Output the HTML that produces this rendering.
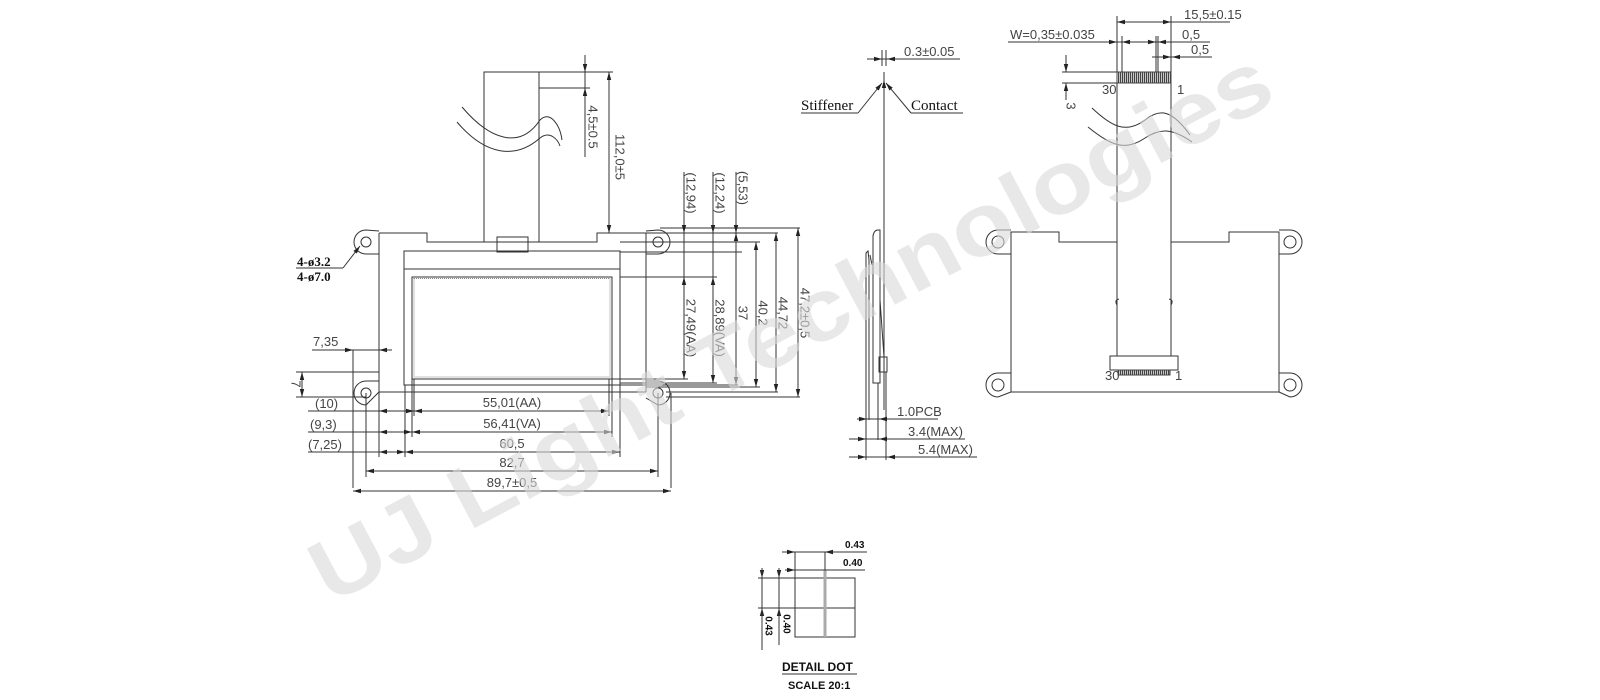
<!DOCTYPE html>
<html><head><meta charset="utf-8"><style>
html,body{margin:0;padding:0;background:#fff;}
svg{display:block;}
.d{font-family:"Liberation Sans",sans-serif;font-size:13px;fill:#444;}
.b{font-family:"Liberation Serif",serif;font-size:13px;font-weight:bold;fill:#111;}
.s{font-family:"Liberation Serif",serif;font-size:15px;fill:#111;}
.a{font-family:"Liberation Sans",sans-serif;font-size:10px;font-weight:bold;fill:#111;}
</style></head><body>
<svg width="1600" height="700" viewBox="0 0 1600 700" xmlns="http://www.w3.org/2000/svg">
<defs>
<marker id="ar" markerWidth="8" markerHeight="6" refX="8" refY="3" orient="auto-start-reverse" markerUnits="userSpaceOnUse"><path d="M0,0.8 L8,3 L0,5.2z" fill="#222"/></marker>
<pattern id="st" width="2" height="10" patternUnits="userSpaceOnUse"><rect width="1.3" height="10" fill="#444"/></pattern>
</defs>
<g stroke="#333" stroke-width="1" fill="none">
<!-- ===== FRONT VIEW ===== -->
<rect x="484" y="72" width="55" height="170"/>
<line x1="539" y1="72" x2="613" y2="72"/>
<line x1="539" y1="88" x2="590" y2="88"/>
<path d="M462,107 C490,140 520,150 540,120 C550,110 560,125 562,140" />
<path d="M457,122 C485,155 515,160 540,138 C550,130 558,140 560,146" />
<line x1="585" y1="55" x2="585" y2="157"/>
<line x1="585" y1="55" x2="585" y2="72" marker-end="url(#ar)"/>
<line x1="585" y1="100" x2="585" y2="88" marker-end="url(#ar)"/>
<line x1="609" y1="72" x2="609" y2="233" marker-start="url(#ar)" marker-end="url(#ar)"/>
<path d="M379,233 L427,233 L427,242 L597,242 L597,233 L646,233"/>
<line x1="379" y1="233" x2="379" y2="392"/>
<line x1="646" y1="233" x2="646" y2="392"/>
<line x1="379" y1="392" x2="646" y2="392"/>
<rect x="497" y="237" width="31" height="15"/>
<path d="M379,231 L366,230 A12,12 0 1 0 366,254 L379,254"/>
<circle cx="366" cy="242" r="5"/>
<path d="M379,381 L366,381 A12,12 0 1 0 366,405 L379,392"/>
<circle cx="366" cy="393" r="5"/>
<path d="M646,231 L658,230 A12,12 0 1 1 658,254 L646,254"/>
<circle cx="658" cy="242" r="5"/>
<path d="M646,381 L658,381 A12,12 0 1 1 658,405 L646,398"/>
<circle cx="658" cy="393" r="5"/>
<rect x="404" y="251" width="216" height="134"/>
<line x1="404" y1="269" x2="620" y2="269"/>
<rect x="412" y="277" width="200" height="102"/>
<rect x="414" y="278.5" width="196" height="98.5" stroke="#888" stroke-dasharray="1,1"/>
<line x1="360" y1="246" x2="343" y2="268" marker-start="url(#ar)"/>
<line x1="296" y1="268" x2="343" y2="268"/>
<line x1="312" y1="350" x2="379" y2="350"/>
<line x1="353" y1="350" x2="353" y2="488"/>
<line x1="340" y1="350" x2="353" y2="350" marker-end="url(#ar)"/>
<line x1="392" y1="350" x2="379" y2="350" marker-end="url(#ar)"/>
<line x1="296" y1="372" x2="379" y2="372"/>
<line x1="296" y1="397" x2="366" y2="397"/>
<line x1="302" y1="372" x2="302" y2="397" marker-start="url(#ar)" marker-end="url(#ar)"/>
<line x1="366" y1="393" x2="366" y2="477"/>
<line x1="379" y1="392" x2="379" y2="457"/>
<line x1="405" y1="385" x2="405" y2="457"/>
<line x1="412" y1="379" x2="412" y2="437"/>
<line x1="414" y1="379" x2="414" y2="416"/>
<line x1="609" y1="379" x2="609" y2="416"/>
<line x1="612" y1="379" x2="612" y2="437"/>
<line x1="620" y1="385" x2="620" y2="457"/>
<line x1="658" y1="393" x2="658" y2="477"/>
<line x1="671" y1="393" x2="671" y2="488"/>
<line x1="308" y1="411" x2="379" y2="411"/>
<line x1="379" y1="411" x2="414" y2="411" marker-start="url(#ar)" marker-end="url(#ar)"/>
<line x1="414" y1="411" x2="609" y2="411" marker-start="url(#ar)" marker-end="url(#ar)"/>
<line x1="308" y1="432" x2="379" y2="432"/>
<line x1="379" y1="432" x2="412" y2="432" marker-start="url(#ar)" marker-end="url(#ar)"/>
<line x1="412" y1="432" x2="612" y2="432" marker-start="url(#ar)" marker-end="url(#ar)"/>
<line x1="308" y1="452" x2="379" y2="452"/>
<line x1="379" y1="452" x2="405" y2="452" marker-start="url(#ar)" marker-end="url(#ar)"/>
<line x1="405" y1="452" x2="620" y2="452" marker-start="url(#ar)" marker-end="url(#ar)"/>
<line x1="366" y1="471" x2="658" y2="471" marker-start="url(#ar)" marker-end="url(#ar)"/>
<line x1="353" y1="491" x2="671" y2="491" marker-start="url(#ar)" marker-end="url(#ar)"/>
<line x1="660" y1="228" x2="800" y2="228"/>
<line x1="646" y1="233" x2="778" y2="233"/>
<line x1="620" y1="242" x2="760" y2="242"/>
<line x1="620" y1="252" x2="742" y2="252"/>
<line x1="620" y1="277" x2="717" y2="277"/>
<line x1="612" y1="379" x2="688" y2="379"/>
<line x1="620" y1="383" x2="717" y2="383"/>
<line x1="620" y1="385" x2="738" y2="385"/>
<line x1="646" y1="387" x2="760" y2="387"/>
<line x1="666" y1="392" x2="778" y2="392"/>
<line x1="666" y1="397" x2="800" y2="397"/>
<line x1="684" y1="172" x2="684" y2="233" marker-end="url(#ar)"/>
<line x1="684" y1="277" x2="684" y2="379" marker-start="url(#ar)" marker-end="url(#ar)"/>
<line x1="684" y1="233" x2="684" y2="277"/>
<line x1="713" y1="172" x2="713" y2="233" marker-end="url(#ar)"/>
<line x1="713" y1="233" x2="713" y2="277"/>
<line x1="713" y1="277" x2="713" y2="383" marker-start="url(#ar)" marker-end="url(#ar)"/>
<line x1="736" y1="172" x2="736" y2="233" marker-end="url(#ar)"/>
<line x1="736" y1="233" x2="736" y2="385" marker-start="url(#ar)" marker-end="url(#ar)"/>
<line x1="756" y1="242" x2="756" y2="387" marker-start="url(#ar)" marker-end="url(#ar)"/>
<line x1="776" y1="233" x2="776" y2="392" marker-start="url(#ar)" marker-end="url(#ar)"/>
<line x1="798" y1="228" x2="798" y2="397" marker-start="url(#ar)" marker-end="url(#ar)"/>

<!-- ===== SIDE VIEW ===== -->
<line x1="884" y1="72" x2="884" y2="410"/>
<line x1="884" y1="84" x2="884" y2="80" marker-end="url(#ar)"/>
<line x1="867" y1="59" x2="960" y2="59"/>
<line x1="876" y1="59" x2="882" y2="59" marker-end="url(#ar)"/>
<line x1="895" y1="59" x2="887" y2="59" marker-end="url(#ar)"/>
<line x1="882" y1="50" x2="882" y2="66"/>
<line x1="886" y1="50" x2="886" y2="66"/>
<line x1="801" y1="113" x2="858" y2="113"/>
<line x1="858" y1="113" x2="882" y2="83" marker-end="url(#ar)"/>
<line x1="911" y1="113" x2="963" y2="113"/>
<line x1="911" y1="113" x2="886" y2="83" marker-end="url(#ar)"/>
<path d="M873,383 L873,236 Q874,230 878,230 L880,230 L880,383 Z"/>
<path d="M866,383 L866,253 L868,251 L869,260 L869,383"/>
<line x1="870" y1="255" x2="872" y2="265"/>
<rect x="879" y="357" width="8" height="15"/>
<line x1="880" y1="300" x2="884" y2="357"/>
<line x1="866" y1="383" x2="866" y2="460"/>
<line x1="878" y1="383" x2="878" y2="440"/>
<line x1="886" y1="372" x2="886" y2="460"/>
<line x1="869" y1="383" x2="869" y2="420"/>
<line x1="857" y1="419" x2="938" y2="419"/>
<line x1="857" y1="419" x2="867" y2="419" marker-end="url(#ar)"/>
<line x1="888" y1="419" x2="879" y2="419" marker-end="url(#ar)"/>
<line x1="849" y1="439" x2="965" y2="439"/>
<line x1="849" y1="439" x2="866" y2="439" marker-end="url(#ar)"/>
<line x1="890" y1="439" x2="879" y2="439" marker-end="url(#ar)"/>
<line x1="849" y1="457" x2="977" y2="457"/>
<line x1="849" y1="457" x2="866" y2="457" marker-end="url(#ar)"/>
<line x1="900" y1="457" x2="887" y2="457" marker-end="url(#ar)"/>

<!-- ===== BACK VIEW ===== -->
<path d="M1011,232 L1059,232 L1059,242 L1229,242 L1229,232 L1279,232 L1279,392 L1011,392 Z"/>
<path d="M1011,230 L998,230 A12,12 0 1 0 998,254 L1011,254"/><circle cx="998" cy="242" r="6"/>
<path d="M1279,230 L1290,230 A12,12 0 1 1 1290,254 L1279,254"/><circle cx="1290" cy="242" r="6"/>
<path d="M1011,373 L998,373 A12,12 0 1 0 998,397 L1011,392"/><circle cx="998" cy="385" r="6"/>
<path d="M1279,373 L1290,373 A12,12 0 1 1 1290,397 L1279,392"/><circle cx="1290" cy="385" r="6"/>
<rect x="1117" y="72" width="54" height="295" fill="#fff"/>
<rect x="1117" y="72" width="54" height="11" fill="url(#st)" stroke="#444"/>
<rect x="1110" y="356" width="68" height="14" fill="#fff"/>
<rect x="1118" y="370" width="52" height="5" fill="url(#st)" stroke="#444"/>
<path d="M1092,108 C1110,125 1125,135 1145,120 C1160,108 1172,110 1190,135" fill="none" stroke="#333"/>
<path d="M1088,127 C1110,145 1125,152 1145,138 C1160,128 1172,128 1192,142"/>
<path d="M1117,305 Q1114,300 1119,299 M1171,305 Q1174,300 1169,299"/>
<line x1="1062" y1="72" x2="1117" y2="72"/>
<line x1="1062" y1="83" x2="1117" y2="83"/>
<line x1="1066" y1="55" x2="1066" y2="72" marker-end="url(#ar)"/>
<line x1="1066" y1="100" x2="1066" y2="83" marker-end="url(#ar)"/>
<line x1="1117" y1="16" x2="1117" y2="72"/>
<line x1="1171" y1="16" x2="1171" y2="72"/>
<line x1="1122" y1="36" x2="1122" y2="72"/>
<line x1="1156" y1="36" x2="1156" y2="72"/>
<line x1="1158" y1="36" x2="1158" y2="72"/>
<line x1="1117" y1="22" x2="1171" y2="22" marker-start="url(#ar)" marker-end="url(#ar)"/>
<line x1="1171" y1="22" x2="1230" y2="22"/>
<line x1="1008" y1="42" x2="1210" y2="42"/>
<line x1="1107" y1="42" x2="1117" y2="42" marker-end="url(#ar)"/>
<line x1="1132" y1="42" x2="1122" y2="42" marker-end="url(#ar)"/>
<line x1="1146" y1="42" x2="1156" y2="42" marker-end="url(#ar)"/>
<line x1="1168" y1="42" x2="1158" y2="42" marker-end="url(#ar)"/>
<line x1="1152" y1="57" x2="1212" y2="57"/>
<line x1="1161" y1="57" x2="1171" y2="57" marker-end="url(#ar)"/>
<line x1="1180" y1="57" x2="1172" y2="57" marker-end="url(#ar)"/>

<!-- ===== DETAIL DOT ===== -->
<rect x="795" y="578" width="60" height="59"/>
<line x1="795" y1="608" x2="855" y2="608"/>
<line x1="825" y1="570" x2="825" y2="637" stroke="#aaa" stroke-width="3"/>
<line x1="782" y1="552" x2="867" y2="552"/>
<line x1="785" y1="552" x2="795" y2="552" marker-end="url(#ar)"/>
<line x1="835" y1="552" x2="825" y2="552" marker-end="url(#ar)"/>
<line x1="788" y1="570" x2="865" y2="570"/>
<line x1="785" y1="570" x2="795" y2="570" marker-end="url(#ar)"/>
<line x1="795" y1="552" x2="795" y2="578"/>
<line x1="825" y1="552" x2="825" y2="570"/>
<line x1="758" y1="578" x2="795" y2="578"/>
<line x1="758" y1="608" x2="795" y2="608"/>
<line x1="762" y1="568" x2="762" y2="578" marker-end="url(#ar)"/>
<line x1="762" y1="618" x2="762" y2="608" marker-end="url(#ar)"/>
<line x1="762" y1="568" x2="762" y2="650"/>
<line x1="779" y1="568" x2="779" y2="578" marker-end="url(#ar)"/>
<line x1="779" y1="618" x2="779" y2="608" marker-end="url(#ar)"/>
<line x1="779" y1="568" x2="779" y2="645"/>
<line x1="782" y1="674" x2="857" y2="674"/>
</g>
<text class="d" transform="translate(593,127) rotate(90)" text-anchor="middle" dominant-baseline="central">4,5±0.5</text>
<text class="d" transform="translate(620,157) rotate(90)" text-anchor="middle" dominant-baseline="central">112,0±5</text>
<text class="d" transform="translate(691,193) rotate(90)" text-anchor="middle" dominant-baseline="central">(12,94)</text>
<text class="d" transform="translate(720,193) rotate(90)" text-anchor="middle" dominant-baseline="central">(12,24)</text>
<text class="d" transform="translate(743,188) rotate(90)" text-anchor="middle" dominant-baseline="central">(5,53)</text>
<text class="d" transform="translate(691,328) rotate(90)" text-anchor="middle" dominant-baseline="central">27,49(AA)</text>
<text class="d" transform="translate(720,328) rotate(90)" text-anchor="middle" dominant-baseline="central">28,89(VA)</text>
<text class="d" transform="translate(743,313) rotate(90)" text-anchor="middle" dominant-baseline="central">37</text>
<text class="d" transform="translate(763,313) rotate(90)" text-anchor="middle" dominant-baseline="central">40,2</text>
<text class="d" transform="translate(783,313) rotate(90)" text-anchor="middle" dominant-baseline="central">44,72</text>
<text class="d" transform="translate(805,313) rotate(90)" text-anchor="middle" dominant-baseline="central">47,2±0,5</text>
<text class="d" transform="translate(296,384) rotate(90)" text-anchor="middle" dominant-baseline="central">7</text>
<text class="d" x="313" y="346">7,35</text>
<text class="d" x="315" y="408">(10)</text>
<text class="d" x="310" y="429">(9,3)</text>
<text class="d" x="308" y="449">(7,25)</text>
<text class="d" x="512" y="407" text-anchor="middle">55,01(AA)</text>
<text class="d" x="512" y="428" text-anchor="middle">56,41(VA)</text>
<text class="d" x="512" y="448" text-anchor="middle">60,5</text>
<text class="d" x="512" y="467" text-anchor="middle">82,7</text>
<text class="d" x="512" y="487" text-anchor="middle">89,7±0,5</text>
<text class="b" x="297" y="266">4-ø3.2</text>
<text class="b" x="297" y="281">4-ø7.0</text>
<text class="d" x="904" y="56">0.3±0.05</text>
<text class="s" x="801" y="110">Stiffener</text>
<text class="s" x="911" y="110">Contact</text>
<text class="d" x="897" y="416">1.0PCB</text>
<text class="d" x="908" y="436">3.4(MAX)</text>
<text class="d" x="918" y="454">5.4(MAX)</text>
<text class="d" x="1184" y="19">15,5±0.15</text>
<text class="d" x="1010" y="39">W=0,35±0.035</text>
<text class="d" x="1182" y="39">0,5</text>
<text class="d" x="1191" y="54">0,5</text>
<text class="d" x="1102" y="94" font-size="10">30</text>
<text class="d" x="1177" y="94" font-size="10">1</text>
<text class="d" x="1105" y="380" font-size="10">30</text>
<text class="d" x="1175" y="380" font-size="10">1</text>
<text class="d" transform="translate(1071,106) rotate(90)" text-anchor="middle" dominant-baseline="central" font-size="11">3</text>
<text class="a" x="845" y="548">0.43</text>
<text class="a" x="843" y="566">0.40</text>
<text class="a" transform="translate(768,626) rotate(90)" text-anchor="middle" dominant-baseline="central">0.43</text>
<text class="a" transform="translate(786,624) rotate(90)" text-anchor="middle" dominant-baseline="central">0.40</text>
<text x="782" y="671" font-family="Liberation Sans,sans-serif" font-size="12" font-weight="bold" fill="#111">DETAIL DOT</text>
<text x="788" y="689" font-family="Liberation Sans,sans-serif" font-size="11" font-weight="bold" fill="#111">SCALE 20:1</text>
<text x="330" y="605" transform="rotate(-28,330,605)" font-family="Liberation Sans,sans-serif" font-size="88" font-weight="bold" fill="#d8d8d8" fill-opacity="0.6" textLength="1075" lengthAdjust="spacingAndGlyphs">UJ Light Technologies</text>
</svg>
</body></html>
